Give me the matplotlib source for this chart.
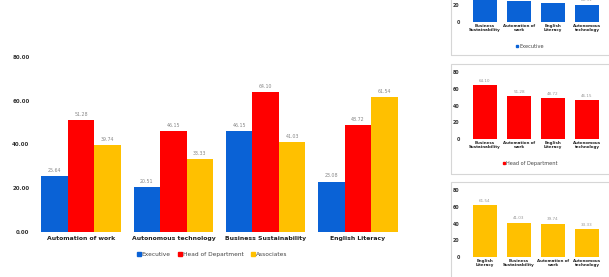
import matplotlib
matplotlib.use("Agg")
import matplotlib.pyplot as plt
from matplotlib.patches import Rectangle
from matplotlib.lines import Line2D
import numpy as np

categories = ["Automation of work", "Autonomous technology", "Business Sustainability", "English Literacy"]
wrapped = {"Automation of work": "Automation of\nwork",
           "Autonomous technology": "Autonomous\ntechnology",
           "Business Sustainability": "Business\nSustainability",
           "English Literacy": "English\nLiteracy"}
executive = [25.64, 20.51, 46.15, 23.08]
head_of_department = [51.28, 46.15, 64.10, 48.72]
associates = [39.74, 33.33, 41.03, 61.54]
series_names = ["Executive", "Head of Department", "Associates"]
colors = ["#0A62D6", "#FF0000", "#FFC000"]
yticks_main = [0, 20, 40, 60, 80]

W, H = 609, 277
fig = plt.figure(figsize=(W / 100, H / 100), dpi=100)
fig.patch.set_facecolor("white")

def fx(px):
    return px / W

def fy(py):
    return 1 - py / H

# cards
for (x0, y0, x1, y1) in [(451, -20, 640, 55), (451, 64, 640, 174), (451, 182, 640, 300)]:
    fig.patches.append(Rectangle((fx(x0), fy(y1)), fx(x1 - x0), (y1 - y0) / H,
                                 transform=fig.transFigure, facecolor="none",
                                 edgecolor="#d6d6d6", linewidth=0.8, zorder=-1))

# main chart
ax = fig.add_axes([fx(35), fy(232), fx(404 - 35), (232 - 57) / H])
x = np.arange(len(categories))
bw = 0.287
all_series = [executive, head_of_department, associates]
for i, (vals, c, name) in enumerate(zip(all_series, colors, series_names)):
    pos = x + (i - 1) * bw
    ax.bar(pos, vals, width=bw, color=c, label=name, zorder=2)
    for p, v in zip(pos, vals):
        ax.text(p, v + 1.5, f"{v:.2f}", ha="center", va="bottom", fontsize=3.4, color="#888888")
ax.set_xlim(-0.5, 3.5)
ax.set_ylim(0, 80)
ax.set_yticks(yticks_main)
ax.set_yticklabels([f"{t:.2f}" for t in yticks_main], fontsize=4.0, color="#333333", fontweight="bold")
ax.set_xticks(x)
ax.set_xticklabels(categories, fontsize=4.4, color="#222222", fontweight="bold")
ax.tick_params(axis="both", length=0, pad=3)
ax.tick_params(axis="y", pad=4)
for s in ax.spines.values():
    s.set_visible(False)
ax.set_facecolor("none")
handles = [Line2D([], [], marker="s", linestyle="none", markersize=2.2, color=c) for c in colors]
fig.legend(handles, series_names, loc="center", bbox_to_anchor=(fx(212), fy(254)), ncol=3,
           frameon=False, fontsize=4.2, handletextpad=0.1, columnspacing=1.2,
           handlelength=0.8, labelcolor="#444444")

# side panels
def side_panel(vals, color, name, bottom_px, legend_px):
    order = sorted(range(len(categories)), key=lambda k: -vals[k])
    cats = [wrapped[categories[k]] for k in order]
    v = [vals[k] for k in order]
    top_px = bottom_px - 67
    a = fig.add_axes([fx(468), fy(bottom_px), fx(604 - 468), (bottom_px - top_px) / H])
    xx = np.arange(len(v))
    a.bar(xx, v, width=0.7, color=color, zorder=2)
    for p, val in zip(xx, v):
        a.text(p, val + 3, f"{val:.2f}", ha="center", va="bottom", fontsize=3.0, color="#999999")
    a.set_xlim(-0.5, 3.5)
    a.set_ylim(0, 80)
    a.set_yticks([0, 20, 40, 60, 80])
    a.set_yticklabels(["0", "20", "40", "60", "80"], fontsize=3.4, color="#333333", fontweight="bold")
    a.set_xticks(xx)
    a.set_xticklabels(cats, fontsize=2.9, color="#222222", fontweight="bold", linespacing=0.9)
    a.tick_params(axis="both", length=0, pad=1.5)
    a.tick_params(axis="y", pad=6)
    for s in a.spines.values():
        s.set_visible(False)
    a.set_facecolor("none")
    h = [Line2D([], [], marker="s", linestyle="none", markersize=2.0, color=color)]
    fig.legend(h, [name], loc="center", bbox_to_anchor=(fx(530), fy(legend_px)), frameon=False,
               fontsize=3.6, handletextpad=0.1, handlelength=0.8, labelcolor="#444444")

side_panel(executive, colors[0], series_names[0], 22, 46)
side_panel(head_of_department, colors[1], series_names[1], 139, 163)
side_panel(associates, colors[2], series_names[2], 257, 281)

fig.savefig("out.png", dpi=100, facecolor="white")
